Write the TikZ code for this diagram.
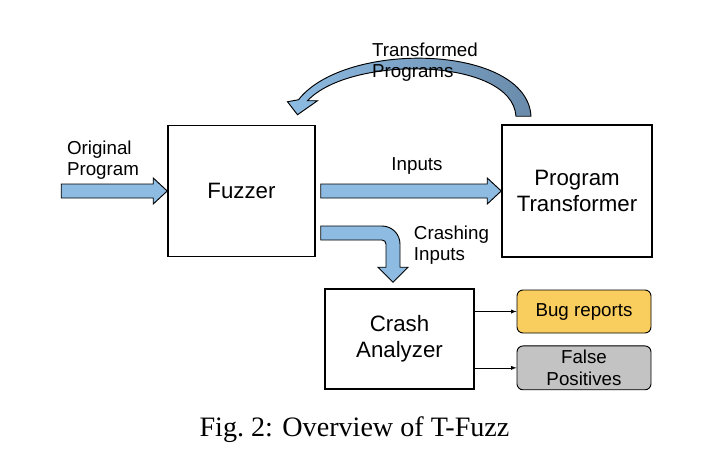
\documentclass[tikz,border=0pt]{standalone}
\usepackage{fontspec}
\setmainfont{Liberation Serif}
\newfontfamily\diagfont{Liberation Sans}
\usetikzlibrary{calc,positioning,arrows}

\definecolor{arrowblue}{HTML}{8DBBE2}
\definecolor{arrowdark}{HTML}{6A8BAB}
\definecolor{bugyellow}{HTML}{F9CE5E}
\definecolor{fpgray}{HTML}{C3C3C3}

% one pixel of the reference
\newcommand*{\px}{0.03cm}
\newcommand*{\ShaftHalf}{7}
\newcommand*{\HeadHalf}{13}
\newcommand*{\HeadLen}{14}
% straight block arrow pointing right, from #1 to the tip #2
\newcommand*{\rightblock}[2]{%
  \draw[block arrow] ($(#1)+(0,-\ShaftHalf)$) -- ($(#2)+(-\HeadLen,-\ShaftHalf)$)
    -- ($(#2)+(-\HeadLen,-\HeadHalf)$) -- (#2) -- ($(#2)+(-\HeadLen,\HeadHalf)$)
    -- ($(#2)+(-\HeadLen,\ShaftHalf)$) -- ($(#1)+(0,\ShaftHalf)$) -- cycle;}
\tikzset{
  stage/.style={draw, line width=1.3pt, align=center,
    font=\diagfont\fontsize{19}{22}\selectfont},
  outbox/.style={draw, line width=0.8pt, rounded corners=1.8mm, align=center,
    minimum width=134*\px, minimum height=43*\px,
    font=\diagfont\fontsize{16}{19}\selectfont},
  block arrow/.style={draw=black, fill=arrowblue, line width=0.8pt, line join=miter},
  lbl/.style={align=left, inner sep=0pt, font=\diagfont\fontsize{16}{18}\selectfont},
}

\begin{document}
\begin{tikzpicture}[x=\px, y=-\px, >=latex]
  \useasboundingbox (0,0) rectangle (717,464);

  \node[stage, minimum width=147*\px, minimum height=131*\px] (fuzzer) at (241.5,191) {Fuzzer};
  \node[stage, minimum width=150*\px, minimum height=132*\px] (transformer) at (577,191) {Program\\Transformer};
  \node[stage, minimum width=149*\px, minimum height=100*\px] (crash) at (399.5,339) {Crash\\Analyzer};
  \node[outbox, fill=bugyellow] (bugs) at (584,311.5) {Bug reports};
  \node[outbox, fill=fpgray, below=12*\px of bugs] (falsepos) {False\\Positives};

  % free ends of the block arrows
  \coordinate (source) at ($(fuzzer.west)+(-106,0)$);
  \coordinate (inputsfrom) at ($(fuzzer.east)+(5,0)$);
  \coordinate (crashfrom) at ($(fuzzer.east)+(5,42)$);
  \coordinate (crashtip) at ($(crash.north)+(-6.5,-6)$);
  \coordinate (loopfrom) at ($(transformer.north)+(-53,-8)$);
  \coordinate (looptip) at ($(fuzzer.north)+(56,-10)$);

  % original program -> fuzzer
  \rightblock{source}{fuzzer.west}
  \node[lbl] (origlbl) at (103,160) {Original\\Program};

  % inputs -> transformer
  \rightblock{inputsfrom}{fuzzer.east -| transformer.west}
  \node[lbl] (inputslbl) at (417,166) {Inputs};

  % crashing inputs -> crash analyzer
  \draw[block arrow] ($(crashfrom)+(0,-7)$) [rounded corners=5.4mm]-- ($(crashfrom -| crashtip)+(7,-7)$)
    [sharp corners]-- ($(crashtip)+(7,-15)$) -- ($(crashtip)+(15,-15)$) -- (crashtip)
    -- ($(crashtip)+(-15,-15)$) -- ($(crashtip)+(-7,-15)$)
    [rounded corners=1.2mm]-- ($(crashfrom -| crashtip)+(-7,7)$)
    [sharp corners]-- ($(crashfrom)+(0,7)$) -- cycle;
  \node[lbl] (crashlbl) at (451.5,245) {Crashing\\Inputs};

  % transformed programs back to the fuzzer
  \draw[block arrow, left color=arrowblue, right color=arrowdark]
    ($(loopfrom)+(7,0)$) .. controls ($(loopfrom)+(3,-72)$) and ($(looptip)+(48,-75)$) .. ($(looptip)+(1,-15)$)
    -- ($(looptip)+(-10,-13)$) -- (looptip) -- ($(looptip)+(20,-14)$) -- ($(looptip)+(10,-14)$)
    .. controls ($(looptip)+(53,-60)$) and ($(loopfrom)+(-12,-59)$) .. ($(loopfrom)+(-8,0)$) -- cycle;
  \node[lbl] (looplbl) at (425,62) {Transformed\\Programs};

  % crash analyzer outputs
  \draw[->, line width=0.6pt] (crash.east |- bugs.west) -- (bugs.west);
  \draw[->, line width=0.6pt] (crash.east |- falsepos.west) -- (falsepos.west);

  \node[font=\fontsize{24}{28}\selectfont, anchor=base] (caption) at (354.5,436) {Fig.~2: Overview of T-Fuzz};
\end{tikzpicture}
\end{document}
